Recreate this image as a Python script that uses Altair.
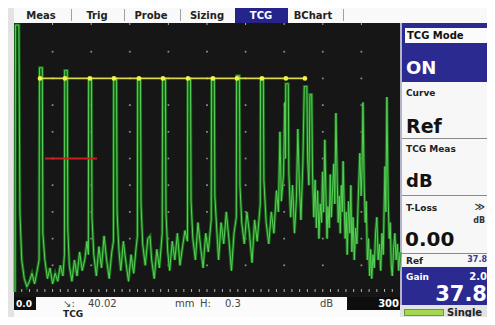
import altair as alt
import pandas as pd

# ---------------- data ----------------
x_domain = [0, 300]          # sound path, mm
y_domain = [0, 100]          # amplitude, % screen height
grid_mm = [30, 60, 90, 120, 150, 180, 210, 240, 270]
grid_pct = [10, 20, 30, 40, 50, 60, 70, 80, 90]
tick_mm = [6 * k for k in range(1, 50)]
tcg_mm = [20.2, 39.6, 59.0, 77.7, 97.1, 115.8, 135.2, 154.6, 173.3, 192.7, 211.3, 226.1]
tcg_level = 80
gate_start, gate_end, gate_level = 24.1, 64.5, 50

# A-scan trace: (sound path mm, amplitude %)
trace_points = [
    (0.8, 0), (1.2, 100), (3.8, 100), (4.6, 30), (6, 12), (8, 5), (10, 2), (12, 4), (14, 7), (16, 3), (18, 8), (19.5, 12),
    (19.8, 84), (22.0, 84), (22.4, 22), (24, 12), (26, 5), (28, 9), (30, 3), (32, 7), (34, 4), (36, 10), (38, 6), (39.2, 14),
    (39.4, 83), (41.4, 83), (41.8, 24), (43, 10), (45, 4), (47, 12), (49, 6), (51, 15), (53, 8), (55, 12), (56.7, 19), (57.8, 14),
    (58.0, 80), (60.2, 80), (60.6, 28), (62, 14), (64, 6), (66, 17), (68, 9), (70, 21), (72, 12), (74, 5), (76, 15), (77.3, 19),
    (77.5, 80), (79.7, 80), (80.1, 30), (81.5, 16), (83, 8), (85, 19), (87, 11), (89, 4), (91, 14), (93, 7), (95, 17), (95.9, 21),
    (96.1, 80), (98.3, 80), (98.7, 33), (100, 18), (102, 10), (104, 20), (105.7, 21), (107, 12), (109, 5), (111, 16), (113, 9), (115.2, 22),
    (115.5, 80), (117.7, 80), (118.1, 30), (119.5, 15), (121, 8), (123, 19), (125, 12), (127, 22), (129, 10), (131, 17), (132.9, 23), (134.8, 19),
    (135.0, 80), (137.2, 80), (137.6, 34), (139, 20), (141, 12), (143, 26), (145, 17), (147, 9), (149, 22), (151, 15), (153.3, 27),
    (153.5, 80), (155.7, 80), (156.1, 36), (157.5, 24), (159, 12), (161, 26), (163, 18), (165, 30), (167, 20), (169, 8), (171, 22), (172.8, 28),
    (173.0, 81), (175.2, 81), (175.6, 40), (177, 26), (179, 18), (181, 30), (183, 22), (185, 11), (187, 27), (189, 19), (191.4, 33),
    (191.6, 80), (193.8, 80), (194.2, 42), (196, 26), (198, 18), (200, 30), (202, 22), (204, 38), (205.5, 30), (206.7, 60), (207.8, 34),
    (209.5, 44), (210.4, 71), (211.0, 50), (211.2, 78),
    (213.2, 78), (213.6, 45), (215, 28), (216.5, 40), (218, 22), (219.5, 35), (220.6, 61), (221.8, 40), (223, 27), (224.5, 48), (225.6, 77),
    (227.6, 77), (228.2, 50), (229.2, 40), (230.0, 74), (231.4, 74), (232, 45), (233, 28), (234, 42), (235, 24), (236, 38), (237, 20),
    (238, 33), (239, 26), (239.8, 45), (240.6, 30), (241.6, 57), (242.5, 35), (243.3, 20), (244, 32), (245, 24), (245.8, 44), (246.6, 28),
    (247.4, 36), (248.5, 48), (249.3, 33), (250.2, 67), (251.2, 42), (252, 26), (252.8, 36), (253.6, 22), (254.4, 40), (255.2, 30),
    (255.8, 49), (256.6, 32), (257.4, 20), (258.2, 30), (259, 14), (260, 34), (261, 22), (261.8, 40), (262.6, 15), (263.5, 28),
    (264.5, 12), (265.5, 24), (266.5, 18), (267.5, 34), (268.8, 52), (269.8, 36), (270.5, 46), (271.2, 71), (272.2, 40), (273, 26),
    (273.8, 34), (274.6, 12), (275.5, 20), (276.4, 6), (277.2, 16), (278, 5), (279, 14), (280, 9), (281, 22), (282, 28), (283, 12),
    (284, 18), (285, 8), (286, 22), (287, 14), (288.3, 47), (289, 30), (289.8, 73), (290.8, 35), (291.6, 20), (292.4, 26), (293.2, 10),
    (294, 6), (295, 16), (296, 22), (297, 12), (298, 18), (299, 8), (300, 15),
]
trace_mm = [p[0] for p in trace_points]
trace_pct = [p[1] for p in trace_points]

tabs = ["Meas", "Trig", "Probe", "Sizing", "TCG", "BChart"]

# ---------------- layout helpers (pixel positions of the instrument UI) ----------------
OFF = 8  # page margin
W, H = 479, 309
FONT = "DejaVu Sans"
RE = 487  # right edge of drawable area (page coords)


def R(x1, y1, x2, y2, fill):
    return dict(x=x1 - OFF, x2=x2 - OFF, y=y1 - OFF, y2=y2 - OFF, fill=fill)


def T(txt, x, y, size, color):
    return dict(t=txt, x=x - OFF, y=y - OFF, s=size, c=color)


BLUE = "#2a2a91"
rects = pd.DataFrame([
    R(14, 7, RE, 23, "#f9f9f9"),
    R(235, 7, 288, 23, "#24248b"),
    R(71, 9, 72, 21, "#a0a0a0"),
    R(124, 9, 125, 21, "#a0a0a0"),
    R(180, 9, 181, 21, "#a0a0a0"),
    R(343, 9, 344, 21, "#a0a0a0"),
    R(14, 23, 400, 297, "#161616"),
    R(400, 23, 402, 305, "#b4b4c8"),
    R(402, 23, RE, 82, BLUE),
    R(405, 28, RE, 43, "#fbfbfb"),
    R(402, 82, RE, 267, "#f7f7f7"),
    R(402, 138, RE, 139, "#8a8a8a"),
    R(402, 195, RE, 196, "#8a8a8a"),
    R(402, 253, RE, 254, "#8a8a8a"),
    R(402, 267, RE, 305, BLUE),
    R(14, 297, 36, 310, "#0e0e0e"),
    R(36, 297, 347, 310, "#fbfbfb"),
    R(347, 297, 400, 310, "#0e0e0e"),
    R(14, 310, 400, 325, "#fbfbfb"),
    R(404, 309, 444, 316, "#6d9a2e"),
    R(405, 310, 443, 315, "#a3d94f"),
])

tab_x = [41, 97, 151, 207, 261, 313]
tab_texts = [T(t, x, 15.5, 10, "#ffffff" if t == "TCG" else "#222222") for t, x in zip(tabs, tab_x)]

left_bold = pd.DataFrame([
    T("TCG Mode", 407, 36, 10, "#111111"),
    T("ON", 406, 69, 18, "#ffffff"),
    T("Curve", 406, 93, 9, "#222222"),
    T("Ref", 406, 127, 19, "#111111"),
    T("TCG Meas", 406, 149, 9, "#222222"),
    T("dB", 406, 182, 18, "#111111"),
    T("T-Loss", 406, 208, 9, "#222222"),
    T("0.00", 405, 240, 20, "#111111"),
    T("Ref", 406, 261, 9, "#222222"),
    T("Gain", 406, 277, 9, "#ffffff"),
    T("0.0", 16, 304, 9, "#ffffff"),
    T("TCG", 63, 313.5, 9, "#222222"),
    T("Single", 447, 313, 10, "#222222"),
])
center_bold = pd.DataFrame(tab_texts)
right_bold = pd.DataFrame([
    T("≫", RE - 2, 207, 10, "#333333"),
    T("dB", RE - 2, 221, 8, "#333333"),
    T("37.8", RE, 260, 8, "#3a3a8e"),
    T("2.0", RE, 277, 10, "#ffffff"),
    T("37.8", RE, 295, 21, "#ffffff"),
    T("300", 399, 304, 10, "#ffffff"),
])
left_plain = pd.DataFrame([
    T("↘:", 63, 303.5, 10, "#444444"),
    T("40.02", 88, 303.5, 10, "#444444"),
    T("mm", 175, 303.5, 10, "#444444"),
    T("H:", 200, 303.5, 10, "#444444"),
    T("0.3", 225, 303.5, 10, "#444444"),
    T("dB", 320, 303.5, 10, "#444444"),
])

PX = alt.X("x:Q", scale=None, axis=None)
PY = alt.Y("y:Q", scale=None, axis=None)

rect_layer = alt.Chart(rects).mark_rect().encode(
    x=PX, x2="x2:Q", y=PY, y2="y2:Q", color=alt.Color("fill:N", scale=None)
)


def text_layer(df, align, weight):
    return alt.Chart(df).mark_text(font=FONT, fontWeight=weight, align=align, baseline="middle").encode(
        x=PX, y=PY, text="t:N",
        size=alt.Size("s:Q", scale=None),
        color=alt.Color("c:N", scale=None),
    )


# ---------------- data scales ----------------
XS = alt.Scale(domain=x_domain, range=[14 - OFF, 400 - OFF], nice=False, zero=False)
YS = alt.Scale(domain=y_domain, range=[292 - OFF, 25 - OFF], nice=False, zero=False)

grid_df = pd.DataFrame([{"mm": m, "pct": p} for m in grid_mm for p in grid_pct])
grid_layer = alt.Chart(grid_df).mark_square(size=3, color="#9c9c9c", opacity=0.9).encode(
    x=alt.X("mm:Q", scale=XS, axis=None), y=alt.Y("pct:Q", scale=YS, axis=None)
)

tick_df = pd.DataFrame({"mm": tick_mm, "major": [m % 30 == 0 for m in tick_mm]})
bottom_ticks = alt.Chart(tick_df).mark_rule(color="#b0b0b0", strokeWidth=1).encode(
    x=alt.X("mm:Q", scale=XS, axis=None),
    y=alt.value(289 - OFF), y2=alt.value(292 - OFF),
)
top_ticks = alt.Chart(tick_df[tick_df.major]).mark_rule(color="#b0b0b0", strokeWidth=1).encode(
    x=alt.X("mm:Q", scale=XS, axis=None),
    y=alt.value(23 - OFF), y2=alt.value(25 - OFF),
)

trace_df = pd.DataFrame({"mm": trace_mm, "pct": trace_pct, "i": list(range(len(trace_mm)))})
glow = alt.Chart(trace_df).mark_line(color="#1a7d1a", strokeWidth=3.0, opacity=0.8).encode(
    x=alt.X("mm:Q", scale=XS, axis=None), y=alt.Y("pct:Q", scale=YS, axis=None), order="i:Q"
)
core = alt.Chart(trace_df).mark_line(color="#58d058", strokeWidth=1.0).encode(
    x=alt.X("mm:Q", scale=XS, axis=None), y=alt.Y("pct:Q", scale=YS, axis=None), order="i:Q"
)

tcg_df = pd.DataFrame({"mm": tcg_mm, "pct": [tcg_level] * len(tcg_mm)})
tcg_line = alt.Chart(tcg_df).mark_line(color="#d8d84a", strokeWidth=1.6).encode(
    x=alt.X("mm:Q", scale=XS, axis=None), y=alt.Y("pct:Q", scale=YS, axis=None)
)
tcg_pts = alt.Chart(tcg_df).mark_circle(color="#f2f24a", size=22, opacity=1).encode(
    x=alt.X("mm:Q", scale=XS, axis=None), y=alt.Y("pct:Q", scale=YS, axis=None)
)

gate_df = pd.DataFrame({"a": [gate_start], "b": [gate_end], "pct": [gate_level]})
gate = alt.Chart(gate_df).mark_rule(color="#c82020", strokeWidth=2).encode(
    x=alt.X("a:Q", scale=XS, axis=None), x2="b:Q", y=alt.Y("pct:Q", scale=YS, axis=None)
)

chart = alt.layer(
    rect_layer,
    grid_layer,
    bottom_ticks,
    top_ticks,
    glow,
    core,
    tcg_line,
    tcg_pts,
    gate,
    text_layer(left_bold, "left", "bold"),
    text_layer(center_bold, "center", "bold"),
    text_layer(right_bold, "right", "bold"),
    text_layer(left_plain, "left", "normal"),
).resolve_scale(
    x="independent", y="independent", color="independent", size="independent"
).properties(
    width=W, height=H, padding=0, background="#e3e3e3",
    autosize=alt.AutoSizeParams(type="none"),
).configure_view(stroke=None)

chart.save("out.html", embed_options={"renderer": "svg", "actions": False})
